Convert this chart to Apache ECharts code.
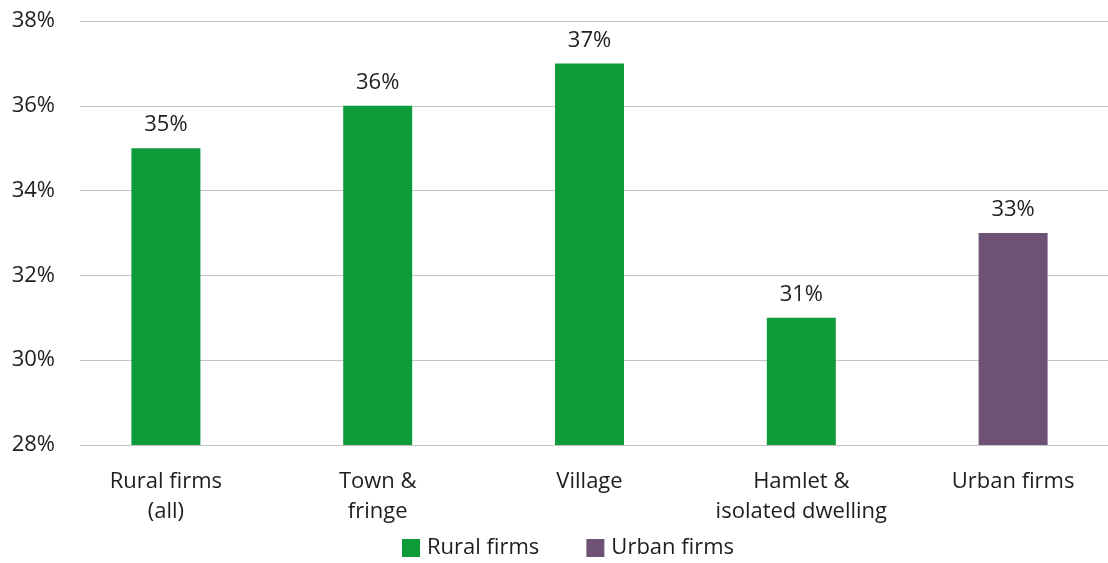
<!DOCTYPE html>
<html>
<head>
<meta charset="utf-8">
<script src="https://cdn.jsdelivr.net/npm/echarts@6/dist/echarts.min.js"></script>
<style>
  html, body { margin: 0; padding: 0; background: #fff; }
  #chart { width: 1108px; height: 563px; }
</style>
</head>
<body>
<div id="chart"></div>
<script>
// Share of firms by settlement type
const categories = ['Rural firms\n(all)', 'Town &\nfringe', 'Village', 'Hamlet &\nisolated dwelling', 'Urban firms'];
const ruralValues = [35, 36, 37, 31, '-'];
const urbanValues = ['-', '-', '-', '-', 33];
const yTicks = { min: 28, max: 38, interval: 2 };

const FONT = '"Open Sans", Lato, sans-serif';
const TEXT = '#1e1e1e';
const FS = 22;

const chart = echarts.init(document.getElementById('chart'), null, { renderer: 'canvas' });

const labelStyle = {
  show: true,
  position: 'top',
  distance: 12,
  formatter: '{c}%',
  color: TEXT,
  fontFamily: FONT,
  fontSize: FS
};

chart.setOption({
  animation: false,
  textStyle: { fontFamily: FONT },
  legend: {
    top: 532,
    left: 397,
    itemWidth: 18,
    itemHeight: 18,
    itemGap: 47,
    icon: 'rect',
    textStyle: { color: TEXT, fontSize: FS, fontFamily: FONT, padding: [0, 0, 0, 2] },
    data: ['Rural firms', 'Urban firms']
  },
  grid: [
    // gridlines and tick labels
    { left: 80, right: 0, top: 21, bottom: 118, containLabel: false, outerBoundsMode: 'none' },
    // bars and category labels
    { left: 60, width: 1059, top: 21, bottom: 118, containLabel: false, outerBoundsMode: 'none' }
  ],
  xAxis: [
    { gridIndex: 0, type: 'category', data: categories, show: false },
    {
      gridIndex: 1,
      type: 'category',
      data: categories,
      axisLine: { show: false },
      axisTick: { show: false },
      axisLabel: {
        color: TEXT,
        fontSize: FS,
        fontFamily: FONT,
        lineHeight: 30,
        margin: 22,
        interval: 0
      }
    }
  ],
  yAxis: [
    {
      gridIndex: 0,
      type: 'value',
      min: yTicks.min,
      max: yTicks.max,
      interval: yTicks.interval,
      axisLine: { show: false },
      axisTick: { show: false },
      axisLabel: {
        formatter: '{value}%',
        color: TEXT,
        fontSize: FS,
        fontFamily: FONT,
        margin: 25
      },
      splitLine: { lineStyle: { color: '#c4c4c4', width: 1 } }
    },
    {
      gridIndex: 1,
      type: 'value',
      min: yTicks.min,
      max: yTicks.max,
      interval: yTicks.interval,
      show: false,
      splitLine: { show: false }
    }
  ],
  series: [
    {
      name: 'Rural firms',
      type: 'bar',
      xAxisIndex: 1,
      yAxisIndex: 1,
      data: ruralValues,
      barWidth: 69,
      barGap: '-100%',
      itemStyle: { color: '#0e9c3a' },
      label: labelStyle
    },
    {
      name: 'Urban firms',
      type: 'bar',
      xAxisIndex: 1,
      yAxisIndex: 1,
      data: urbanValues,
      barWidth: 69,
      barGap: '-100%',
      itemStyle: { color: '#6e5275' },
      label: labelStyle
    }
  ]
});
</script>
</body>
</html>
